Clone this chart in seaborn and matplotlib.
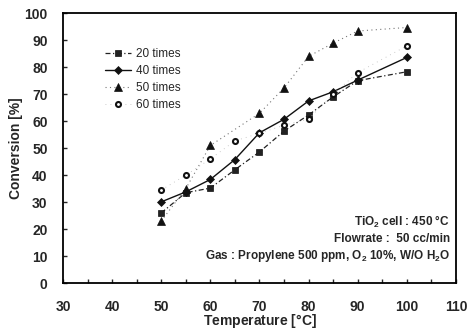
import numpy as np
import pandas as pd
import matplotlib
matplotlib.use("Agg")
import matplotlib.pyplot as plt
import seaborn as sns

# data
temp_20 = [50, 55, 60, 65, 70, 75, 80, 85, 90, 100]
conv_20 = [26, 33.5, 35.2, 42, 48.6, 56.3, 62.3, 69, 75, 78.3]
temp_40 = [50, 55, 60, 65, 70, 75, 80, 85, 90, 100]
conv_40 = [30.1, 33.8, 38.4, 45.8, 55.7, 60.7, 67.5, 70.9, 75.2, 83.6]
temp_50 = [50, 55, 60, 70, 75, 80, 85, 90, 100]
conv_50 = [23, 35, 51, 62.9, 72.3, 84, 88.9, 93.4, 94.7]
temp_60 = [50, 55, 60, 65, 70, 75, 80, 85, 90, 100]
conv_60 = [34.5, 40, 46, 52.7, 55.5, 58.5, 60.8, 70, 78, 87.9]

labels = ["20 times", "40 times", "50 times", "60 times"]
notes = ["TiO$_2$ cell : 450 $\\degree$C",
         "Flowrate :  50 cc/min",
         "Gas : Propylene 500 ppm, O$_2$ 10%, W/O H$_2$O"]

sns.set_style("ticks")
plt.rcParams["font.family"] = ["Liberation Sans", "DejaVu Sans"]
plt.rcParams["mathtext.fontset"] = "custom"
plt.rcParams["mathtext.rm"] = "Liberation Sans:bold"
plt.rcParams["mathtext.it"] = "Liberation Sans:bold"
plt.rcParams["mathtext.bf"] = "Liberation Sans:bold"

fig = plt.figure(figsize=(4.7, 3.3), dpi=100)
ax = fig.add_axes([0.134, 0.142, 0.836, 0.818])

series = [
    (temp_20, conv_20, dict(marker="s", linestyle=(0, (4, 2, 1, 2)), color="#222222", markersize=5,
                            linewidth=0.9)),
    (temp_40, conv_40, dict(marker="D", linestyle="-", color="#111111", markersize=3.8, linewidth=1.0)),
    (temp_50, conv_50, dict(marker="^", linestyle=(0, (1, 3)), color="#777777", markersize=5.5, linewidth=0.8,
                            markerfacecolor="#111111")),
    (temp_60, conv_60, dict(marker="o", linestyle=(0, (1, 5)), color="#bbbbbb", markersize=3.6, linewidth=0.6,
                            markerfacecolor="white")),
]

for (tx, cy, style), lab in zip(series, labels):
    df = pd.DataFrame({"Temperature": tx, "Conversion": cy})
    edge_w = 1.5 if style["marker"] == "o" else 0.5
    sns.lineplot(data=df, x="Temperature", y="Conversion", ax=ax, label=lab,
                 markeredgecolor="#111111", markeredgewidth=edge_w, **style)

ax.set_xlim(30, 110)
ax.set_ylim(0, 100)
ax.set_xticks(np.arange(30, 111, 10))
ax.set_xticks(np.arange(35, 110, 10), minor=True)
ax.set_yticks(np.arange(0, 101, 10))
ax.tick_params(axis="both", which="both", direction="in", length=3, width=1, labelsize=10)
ax.tick_params(axis="y", pad=11)
ax.tick_params(axis="x", pad=12)
for lbl in ax.get_xticklabels() + ax.get_yticklabels():
    lbl.set_fontweight("bold")

for sp in ax.spines.values():
    sp.set_linewidth(1.3)
    sp.set_color("black")

ax.set_xlabel("Temperature [$\\degree$C]", fontsize=10, fontweight="bold", labelpad=-1)
ax.set_ylabel("Conversion [%]", fontsize=10, fontweight="bold", labelpad=1)

leg = ax.legend(loc="upper left", bbox_to_anchor=(0.08, 0.91), frameon=False, fontsize=8.5,
                handlelength=2.2, labelspacing=0.42, handletextpad=0.4)

for i, note in enumerate(notes):
    ax.text(0.985, 0.226 - i * 0.063, note, transform=ax.transAxes, ha="right", va="center",
            fontsize=8.5, fontweight="bold")

fig.savefig("out.png", dpi=100)
